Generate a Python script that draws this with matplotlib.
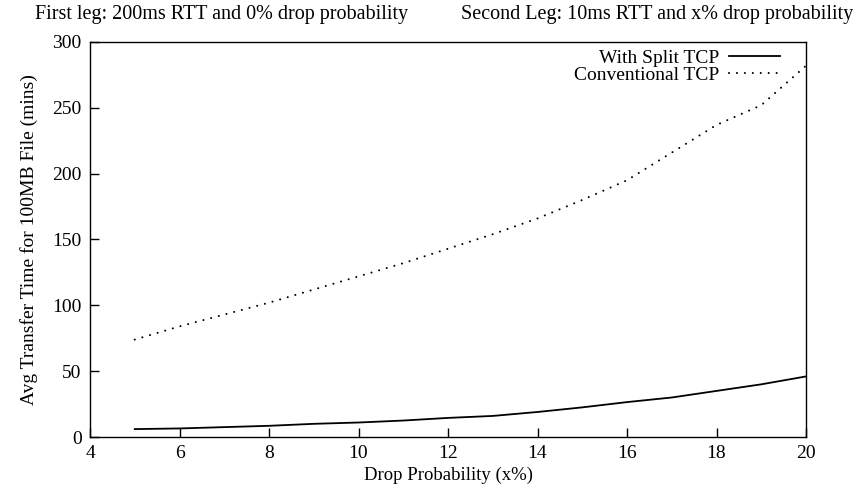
import matplotlib
matplotlib.use("Agg")
import matplotlib.pyplot as plt

# ── Data ──────────────────────────────────────────────────────────────────────
drop_prob    = [5, 6, 7, 8, 9, 10, 11, 12, 13, 14, 15, 16, 17, 18, 19, 20]
split_tcp    = [6, 6.5, 7.5, 8.5, 10, 11, 12.5, 14.5, 16, 19, 22.5, 26.5, 30, 35, 40, 46]
conventional = [74, 84, 93, 102, 112, 122, 132, 143, 154, 166, 180, 195, 216, 237, 252, 282]

x_ticks = [4, 6, 8, 10, 12, 14, 16, 18, 20]
y_ticks = [0, 50, 100, 150, 200, 250, 300]

plt.rcParams['font.family'] = ['Liberation Serif', 'DejaVu Serif']

W, H = 856, 494
fig = plt.figure(figsize=(W / 100, H / 100), dpi=100)
ax = fig.add_axes([90 / W, 1 - 437 / H, 716 / W, 395 / H])

ax.plot(drop_prob, split_tcp, color='black', linewidth=1.3, label='With Split TCP')
ax.plot(drop_prob, conventional, color='black', linewidth=1.5,
        linestyle=(0, (0.01, 3.8)), dash_capstyle='round', label='Conventional TCP')

ax.set_xlim(4, 20); ax.set_ylim(0, 300)
ax.set_xticks(x_ticks); ax.set_yticks(y_ticks)
ax.tick_params(direction='in', length=6.5, width=1, labelsize=14,
               top=False, right=False, pad=6)
for s in ax.spines.values():
    s.set_linewidth(1)

ax.set_xlabel("Drop Probability (x%)", fontsize=13.5, labelpad=3)
ax.set_ylabel("Avg Transfer Time for 100MB File (mins)", fontsize=14, labelpad=10)

fig.text(35 / W, 1 - 14 / H, "First leg: 200ms RTT and 0% drop probability",
         ha='left', va='center', fontsize=14.5)
fig.text(853 / W, 1 - 14 / H, "Second Leg: 10ms RTT and x% drop probability",
         ha='right', va='center', fontsize=14.5)

ax.legend(loc='upper right', bbox_to_anchor=(1 - 26 / 716, 1 - 7 / 395),
          frameon=False, markerfirst=False, fontsize=14, borderaxespad=0,
          borderpad=0, handlelength=2.6, labelspacing=0.0, handletextpad=0.55)

fig.savefig("out.png", dpi=100)
